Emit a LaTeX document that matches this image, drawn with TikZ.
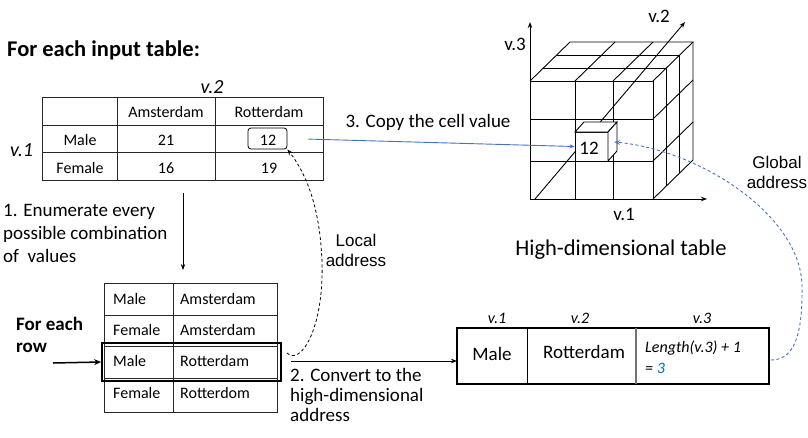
\documentclass[tikz,border=0pt]{standalone}
\usepackage{fontspec}
\setmainfont{Carlito}
\newfontfamily\arialf{Liberation Sans}
\usetikzlibrary{arrows.meta}
\definecolor{offblue}{HTML}{4472C4}
\definecolor{brightblue}{HTML}{0070C0}
\begin{document}
\begin{tikzpicture}[x=1pt,y=-1pt,
  ann/.style={font=\fontsize{19}{23}\selectfont, inner sep=0pt, align=left},
  bigann/.style={font=\bfseries\fontsize{22.5}{26}\selectfont, inner sep=0pt},
  boldann/.style={font=\bfseries\fontsize{19}{22}\selectfont, inner sep=0pt, align=left},
  cell/.style={font=\fontsize{16}{19}\selectfont, inner sep=0pt},
  arialtxt/.style={font=\arialf\fontsize{17}{20}\selectfont, inner sep=0pt, align=center},
  tline/.style={line width=0.8pt, black!85},
  cubel/.style={line width=0.9pt, black},
  arr/.style={-{Stealth[length=6pt,width=4.5pt]}},
]
\useasboundingbox (0,0) rectangle (808,437);

% ---------- title ----------
\node[bigann, anchor=base west] (title) at (7,56) {For each input table:};

% ---------- top input table ----------
\draw[tline] (42,97) rectangle (323,180);
\draw[tline] (117,97)--(117,180) (215,97)--(215,180) (42,125)--(323,125) (42,152)--(323,152);
\node[ann, font=\itshape\fontsize{20}{24}\selectfont, anchor=base] (v2top) at (212,93) {v.2};
\node[ann, font=\itshape\fontsize{20}{24}\selectfont, anchor=base west] (v1top) at (10,156) {v.1};
\node[cell, anchor=base] (hA) at (166,117) {Amsterdam};
\node[cell, anchor=base] (hR) at (269,117) {Rotterdam};
\node[cell, anchor=base] (rM) at (80,145) {Male};
\node[cell, anchor=base] (c21) at (166,145) {21};
\node[cell, anchor=base] (c12) at (268,145) {12};
\node[draw, rounded corners=3pt, line width=0.8pt, minimum width=39pt, minimum height=21pt, inner sep=0pt] (box12) at (267.5,138.5) {};
\node[cell, anchor=base] (rF) at (80,173) {Female};
\node[cell, anchor=base] (c16) at (166,173) {16};
\node[cell, anchor=base] (c19) at (269,173) {19};

% ---------- step 1 ----------
\node[ann, anchor=base west] (step1) at (3,262) {1. Enumerate every\\possible combination\\of\ \ values};
\coordinate (dtop) at (183,193);
\coordinate (dbot) at (183,270);
\draw[line width=0.8pt, arr] (dtop) -- (dbot);

% ---------- bottom enumeration table ----------
\draw[tline] (104,283) rectangle (277,412);
\draw[tline] (173,283)--(173,412) (104,315)--(277,315) (104,346)--(277,346) (104,378)--(277,378);
\node[cell, anchor=base west] (e1a) at (113,304) {Male};
\node[cell, anchor=base west] (e1b) at (180,304) {Amsterdam};
\node[cell, anchor=base west] (e2a) at (113,335) {Female};
\node[cell, anchor=base west] (e2b) at (180,335) {Amsterdam};
\node[cell, anchor=base west] (e3a) at (113,366) {Male};
\node[cell, anchor=base west] (e3b) at (180,366) {Rotterdam};
\node[cell, anchor=base west] (e4a) at (113,398) {Female};
\node[cell, anchor=base west] (e4b) at (180,398) {Rotterdom};
\node[draw, line width=1.8pt, minimum width=179pt, minimum height=38pt, inner sep=0pt] (hl) at (191.5,362) {};

% ---------- for each row ----------
\node[boldann, anchor=base west] (foreach) at (16,352) {For each\\row};
\coordinate (rowarr) at (53,363);
\draw[line width=1.5pt, -{Stealth[length=7pt,width=6pt]}] (rowarr) -- (hl.west);

% ---------- step 2 ----------
\node[ann, font=\fontsize{19}{20}\selectfont, anchor=base west] (step2) at (290,421) {2. Convert to the\\high-dimensional\\address};

% ---------- high-dimensional address row ----------
\draw[line width=1.6pt] (457,328) rectangle (769,384);
\draw[line width=1pt] (527,328)--(527,384);
\draw[line width=1.4pt, black!55] (636,328)--(636,384);
\node[cell, font=\itshape\fontsize{16}{19}\selectfont, anchor=base] (hv1) at (497,323) {v.1};
\node[cell, font=\itshape\fontsize{16}{19}\selectfont, anchor=base] (hv2) at (580,323) {v.2};
\node[cell, font=\itshape\fontsize{16}{19}\selectfont, anchor=base] (hv3) at (702,323) {v.3};
\node[ann, anchor=base] (aMale) at (492,360) {Male};
\node[ann, anchor=base] (aRot) at (584,358) {Rotterdam};
\node[cell, font=\itshape\fontsize{16}{19}\selectfont, anchor=base west] (len1) at (645,352) {Length(v.3) + 1};
\node[cell, font=\itshape\fontsize{16}{19}\selectfont, anchor=base west] (len2) at (645,373) {= \textcolor{brightblue}{3}};
\coordinate (rowW) at (457,361);
\coordinate (rowE) at (771,360);
\draw[line width=0.8pt, arr] (hl.east |- rowW) ++(9,0) coordinate (s2) (s2) -- (rowW);

% ---------- cube ----------
\coordinate (O) at (530,199);
\coordinate (Y3) at (530,22);
\coordinate (X1) at (707,199);
\coordinate (Z0) at (535,199);
\coordinate (Z2) at (685,22);
\draw[cubel, arr] (O) -- (Y3);
\draw[cubel, arr] (O) -- (X1);
% front face grid
\draw[cubel] (530,81) rectangle (653,199);
\draw[cubel] (575,81)--(575,199) (613,81)--(613,199) (530,119)--(653,119) (530,161)--(653,161);
% top face
\draw[cubel] (530,81)--(570,42)--(693,42)--(653,81);
\draw[cubel] (575,81)--(615,42) (613,81)--(653,42);
\draw[cubel] (543.3,68)--(666.3,68) (556.7,55)--(679.7,55);
% right face
\draw[cubel] (693,42)--(693,160)--(653,199);
\draw[cubel] (666.3,68)--(666.3,186) (679.7,55)--(679.7,173);
\draw[cubel] (653,119)--(693,80) (653,161)--(693,122);
% v.2 diagonal axis
\draw[cubel, arr] (Z0) -- (Z2);
% small cube with the value
\node[draw, cubel, fill=white, minimum width=33pt, minimum height=29pt, inner sep=0pt] (cell12) at (591.5,146.5) {};
\draw[cubel, fill=white] (575,132)--(584,122)--(617,122)--(608,132)--cycle;
\draw[cubel, fill=white] (608,132)--(617,122)--(617,151)--(608,161)--cycle;
\node[ann, anchor=base] (n12) at (589,154) {12};
\coordinate (cubeR) at (614,142);
% axis labels
\node[ann, anchor=base] (lv3) at (515,50) {v.3};
\node[ann, anchor=base] (lv2) at (659,22) {v.2};
\node[ann, anchor=base] (lv1) at (624,220) {v.1};
\node[ann, font=\fontsize{22.5}{26}\selectfont, anchor=base] (hdt) at (621,255) {High-dimensional table};

% ---------- step 3 ----------
\node[ann, anchor=base] (step3) at (428,127) {3. Copy the cell value};
\draw[offblue, line width=0.9pt, -{Stealth[length=5pt,width=4pt]}, shorten <=21pt] (box12.east) -- (cell12.west);

% ---------- local address ----------
\node[arialtxt, anchor=base] (local) at (356,266) {Local\\address};
\coordinate (hlE) at (287,353);
\draw[line width=0.8pt, dashed, dash pattern=on 3pt off 2.5pt, -{Stealth[length=6pt,width=4.5pt,open]}]
  (hlE) .. controls (300,366) and (324,330) .. (322,262) .. controls (320,205) and (305,172) .. (box12.south east);

% ---------- global address ----------
\node[arialtxt, anchor=base] (global) at (777,188) {Global\\address};
\draw[offblue, line width=0.9pt, dashed, dash pattern=on 3pt off 2.5pt, -{Stealth[length=6pt,width=4.5pt,open]}]
  (rowE) .. controls (792,360) and (803,340) .. (802,285) .. controls (800,215) and (700,150) .. (cubeR);
\end{tikzpicture}
\end{document}
